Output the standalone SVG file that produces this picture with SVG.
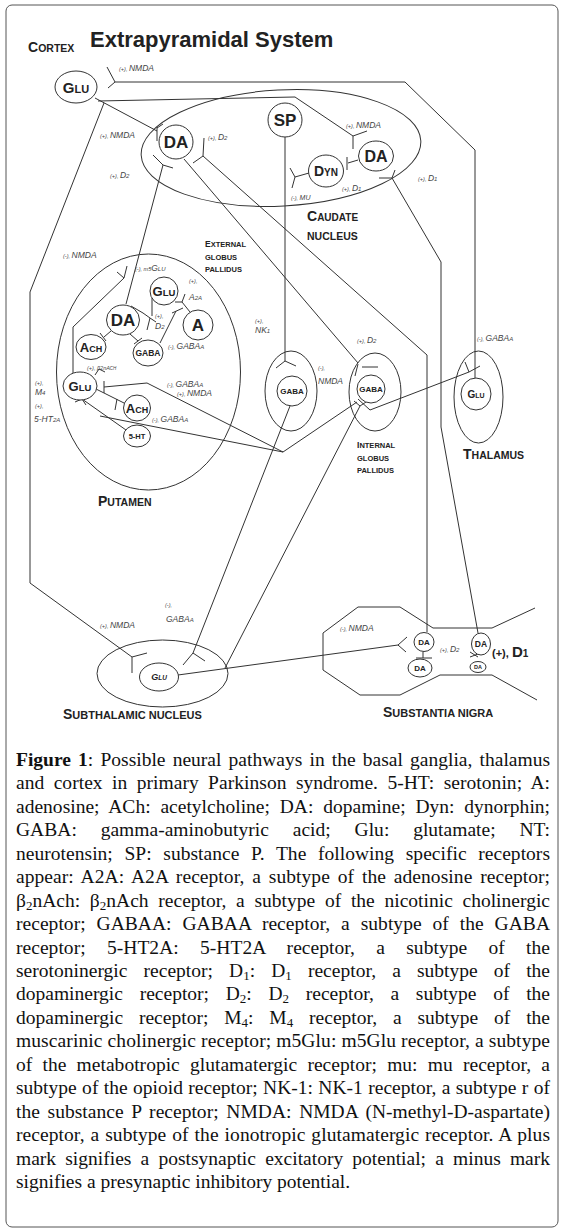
<svg xmlns="http://www.w3.org/2000/svg" width="566" height="1232" viewBox="0 0 566 1232">
<style>
.ln{fill:none;stroke:#333;stroke-width:1}
.rg{fill:none;stroke:#333;stroke-width:1}
.nd{fill:#fff;stroke:#333;stroke-width:1}
text{font-family:'Liberation Sans',Arial,sans-serif}
.n{font-weight:bold;fill:#222;text-anchor:middle}
.r{font-style:italic;font-size:8.5px;fill:#444}
.s{font-size:5.5px}
.sb{font-size:6px}
.g{font-weight:bold;fill:#222}
.c{font-family:'Liberation Serif','Times New Roman',serif;font-size:19.5px;fill:#111}
</style>
<rect x="0" y="0" width="566" height="1232" fill="#fff"/>
<rect x="6" y="5" width="552" height="1222" rx="6" fill="none" stroke="#555" stroke-width="1"/>
<text x="90" y="47" font-size="22" font-weight="bold" fill="#222">Extrapyramidal System</text>

<g id="regions">
<ellipse id="caudate" class="rg" cx="281" cy="148" rx="140" ry="58" transform="rotate(-3 281 148)"/>
<ellipse id="putamen" class="rg" cx="148.5" cy="372" rx="92" ry="118"/>
<ellipse id="extGP" class="rg" cx="291" cy="391" rx="26" ry="40"/>
<ellipse id="intGP" class="rg" cx="375" cy="392" rx="26" ry="39"/>
<ellipse id="thalamus" class="rg" cx="478.5" cy="397" rx="24.5" ry="46"/>
<ellipse id="stn" class="rg" cx="162.5" cy="673.5" rx="65.5" ry="33.5"/>
<path id="sn" class="rg" d="M535,608 L492,628 L433,628 L400,607 L358,607 L323,633 V670 L360,695 L400,695 L440,675 L492,675 L537,700"/>
</g>

<g id="connectors">
<path class="ln" d="M115,82 H405 L475,150 V379 M107,67 L115,82 L108,88"/>
<path class="ln" d="M98,101 L295,97 L353,136 M353,136 V149 M353,136 L367,131"/>
<path class="ln" d="M95,98 L157,131 M157,127 V141 M157,128 L163,124"/>
<path class="ln" d="M104,103 L30,292 V583 L132,657 M132,657 V673 M132,657 L147,653"/>
<path class="ln" d="M203,156 L427,355 V632 M204,138 L203,156 L193,163"/>
<path class="ln" d="M184,159 L358,363 M362,367 H378 M358,364 L355,376"/>
<path class="ln" d="M163,165 L126,304 M153,155 L163,165 L173,168"/>
<path class="ln" d="M285,137 V361 M276,368 L285,361 L296,366"/>
<path class="ln" d="M392,178 L441,262 V427 L478,633 M379,178 L392,178 L395,170"/>
<path class="ln" d="M358,160 L348,163 M347,157 V170"/>
<path class="ln" d="M309,173 L295,177 M290,168 L295,177 L292,188"/>
<path class="ln" d="M290,406 L193,653 M183,665 L193,653 L205,661"/>
<path class="ln" d="M360,406 L225,668 M354,401 L360,406 L366,402"/>
<path class="ln" d="M358,399 L370,410 L469,372 M465,362 L469,372 L480,366"/>
<path class="ln" d="M178,675 L398,645 M407,637 L398,645 L406,652"/>
<path class="ln" d="M283,452 L147,383 L104,387 M104,381 V393"/>
<path class="ln" d="M283,452 L100,416"/>
<path class="ln" d="M283,452 L357,402"/>
<path class="ln" d="M73,374 V327 L124,278 M127,266 L124,278 L117,272"/>
<path class="ln" d="M131,306 L143,313 L150,318 M147,330 L150,318 L156,322"/>
<path class="ln" d="M152,298 V316"/>
<path class="ln" d="M111,331 L104,337 M100,333 L106,341"/>
<path class="ln" d="M130,334 L138,341 M134,344 L142,338"/>
<path class="ln" d="M160,343 L176,311 M172,313 L183,308"/>
<path class="ln" d="M190,312 L182,302 M175,302 L182,302 L185,294"/>
<path class="ln" d="M96,389 L124,403 M117,399 L115,410"/>
<path class="ln" d="M82,399 L126,430 M75,402 L82,399 L86,405"/>
<path class="ln" d="M95,375 L99,369 L105,372"/>
<path class="ln" d="M423,652 V658 M416,658 H432"/>
<path class="ln" d="M470,652 L478,657 M470,657 L478,654"/>
</g>

<g id="n-cortex-glu"><ellipse class="nd" cx="76" cy="87" rx="21" ry="16"/><text class="n" x="76" y="93"><tspan font-size="15">G</tspan><tspan font-size="11">LU</tspan></text></g>
<g id="n-caud-da"><circle class="nd" cx="176" cy="142" r="17"/><text class="n" x="176" y="148" font-size="17">DA</text></g>
<g id="n-sp"><circle class="nd" cx="285" cy="120" r="17"/><text class="n" x="285" y="126" font-size="17">SP</text></g>
<g id="n-caud-da2"><ellipse class="nd" cx="376" cy="156" rx="17.5" ry="15"/><text class="n" x="376" y="162" font-size="16">DA</text></g>
<g id="n-dyn"><ellipse class="nd" cx="326" cy="171" rx="17.5" ry="16"/><text class="n" x="326" y="176"><tspan font-size="14">D</tspan><tspan font-size="10">YN</tspan></text></g>

<g id="n-put-glu-top"><circle class="nd" cx="164" cy="291" r="14"/><text class="n" x="164" y="296"><tspan font-size="13">G</tspan><tspan font-size="9.5">LU</tspan></text></g>
<g id="n-put-da"><ellipse class="nd" cx="123" cy="320" rx="16.5" ry="15"/><text class="n" x="123" y="326" font-size="17">DA</text></g>
<g id="n-put-a"><circle class="nd" cx="198" cy="325" r="15"/><text class="n" x="198" y="331" font-size="17">A</text></g>
<g id="n-put-ach"><ellipse class="nd" cx="91" cy="347" rx="15" ry="12.5"/><text class="n" x="91" y="352"><tspan font-size="13">A</tspan><tspan font-size="9">CH</tspan></text></g>
<g id="n-put-gaba"><ellipse class="nd" cx="148" cy="353" rx="15" ry="13"/><text class="n" x="148" y="356" font-size="8.5">GABA</text></g>
<g id="n-put-glu"><ellipse class="nd" cx="80" cy="386" rx="17" ry="14"/><text class="n" x="80" y="391"><tspan font-size="13">G</tspan><tspan font-size="9.5">LU</tspan></text></g>
<g id="n-put-ach2"><ellipse class="nd" cx="137" cy="408" rx="13.5" ry="13"/><text class="n" x="137" y="413"><tspan font-size="13">A</tspan><tspan font-size="9">CH</tspan></text></g>
<g id="n-put-5ht"><ellipse class="nd" cx="137" cy="436" rx="13.5" ry="11"/><text class="n" x="137" y="439" font-size="7.5">5-HT</text></g>

<g id="n-ext-gaba"><circle class="nd" cx="292" cy="391" r="15"/><text class="n" x="292" y="394" font-size="8">GABA</text></g>
<g id="n-int-gaba"><circle class="nd" cx="371" cy="389" r="14"/><text class="n" x="371" y="392" font-size="8">GABA</text></g>
<g id="n-thal-glu"><ellipse class="nd" cx="476" cy="394" rx="15" ry="16"/><text class="n" x="476" y="398"><tspan font-size="10">G</tspan><tspan font-size="7">LU</tspan></text></g>
<g id="n-stn-glu"><ellipse class="nd" cx="159" cy="677" rx="19.5" ry="14"/><text class="n" x="159" y="680" font-style="italic"><tspan font-size="9">G</tspan><tspan font-size="6.5">LU</tspan></text></g>
<g id="n-sn-da1"><ellipse class="nd" cx="424" cy="642" rx="10" ry="9.5"/><text class="n" x="424" y="645" font-size="8">DA</text></g>
<g id="n-sn-da2"><ellipse class="nd" cx="420" cy="668" rx="12" ry="9"/><text class="n" x="420" y="671" font-size="8">DA</text></g>
<g id="n-sn-da3"><ellipse class="nd" cx="481" cy="644" rx="9.5" ry="11"/><text class="n" x="481" y="647" font-size="8.5">DA</text></g>
<g id="n-sn-da4"><ellipse class="nd" cx="478" cy="667" rx="8" ry="5.5"/><text class="n" x="478" y="669" font-size="5.5">DA</text></g>

<g id="region-labels">
<text class="g" x="28" y="52"><tspan font-size="14">C</tspan><tspan font-size="10.5">ORTEX</tspan></text>
<text class="g" x="307" y="221"><tspan font-size="14">C</tspan><tspan font-size="10">AUDATE</tspan></text>
<text class="g" x="307" y="240" font-size="10.5">NUCLEUS</text>
<text class="g" x="205" y="247"><tspan font-size="8.5">E</tspan><tspan font-size="7.5">XTERNAL</tspan></text>
<text class="g" x="205" y="260" font-size="7.5">GLOBUS</text>
<text class="g" x="205" y="272" font-size="7.5">PALLIDUS</text>
<text class="g" x="357" y="448"><tspan font-size="8.5">I</tspan><tspan font-size="7.5">NTERNAL</tspan></text>
<text class="g" x="357" y="461" font-size="7.5">GLOBUS</text>
<text class="g" x="357" y="473" font-size="7.5">PALLIDUS</text>
<text class="g" x="98" y="506"><tspan font-size="14">P</tspan><tspan font-size="10.5">UTAMEN</tspan></text>
<text class="g" x="463" y="459"><tspan font-size="14">T</tspan><tspan font-size="10.5">HALAMUS</tspan></text>
<text class="g" x="63" y="719"><tspan font-size="14">S</tspan><tspan font-size="11">UBTHALAMIC NUCLEUS</tspan></text>
<text class="g" x="383" y="717"><tspan font-size="14">S</tspan><tspan font-size="11">UBSTANTIA NIGRA</tspan></text>
</g>

<g id="receptor-labels">
<text class="r" x="119" y="71"><tspan class="s">(+), </tspan>NMDA</text>
<text class="r" x="100" y="138"><tspan class="s">(+), </tspan>NMDA</text>
<text class="r" x="208" y="140"><tspan class="s">(+), </tspan>D<tspan class="sb">2</tspan></text>
<text class="r" x="110" y="178"><tspan class="s">(+), </tspan>D<tspan class="sb">2</tspan></text>
<text class="r" x="346" y="128"><tspan class="s">(+), </tspan>NMDA</text>
<text class="r" x="291" y="200"><tspan class="s">(-), </tspan><tspan font-size="7">MU</tspan></text>
<text class="r" x="342" y="191"><tspan class="s">(+), </tspan>D<tspan class="sb">1</tspan></text>
<text class="r" x="418" y="181"><tspan class="s">(+), </tspan>D<tspan class="sb">1</tspan></text>
<text class="r" x="63" y="258"><tspan class="s">(-), </tspan>NMDA</text>
<text class="r" x="135" y="271"><tspan class="s">(-), m5</tspan>G<tspan class="sb">LU</tspan></text>
<text class="r s" x="189" y="283">(+),</text>
<text class="r" x="189" y="300">A<tspan class="sb">2A</tspan></text>
<text class="r s" x="155" y="318">(+),</text>
<text class="r" x="155" y="329">D<tspan class="sb">2</tspan></text>
<text class="r" x="168" y="349"><tspan class="s">(-), </tspan>GABA<tspan class="sb">A</tspan></text>
<text class="r" x="87" y="370"><tspan class="s">(+), β2nA</tspan><tspan font-size="4.5">CH</tspan></text>
<text class="r" x="167" y="387"><tspan class="s">(-), </tspan>GABA<tspan class="sb">A</tspan></text>
<text class="r" x="177" y="396"><tspan class="s">(+), </tspan>NMDA</text>
<text class="r" x="152" y="422"><tspan class="s">(-), </tspan>GABA<tspan class="sb">A</tspan></text>
<text class="r s" x="35" y="385">(+),</text>
<text class="r" x="35" y="395">M<tspan class="sb">4</tspan></text>
<text class="r s" x="35" y="408">(+),</text>
<text class="r" x="34" y="422">5-HT<tspan class="sb">2A</tspan></text>
<text class="r s" x="255" y="323">(+),</text>
<text class="r" x="255" y="333">NK<tspan class="sb">1</tspan></text>
<text class="r s" x="318" y="370">(-),</text>
<text class="r" x="318" y="384">NMDA</text>
<text class="r" x="357" y="343"><tspan class="s">(+), </tspan>D<tspan class="sb">2</tspan></text>
<text class="r" x="477" y="341"><tspan class="s">(-), </tspan>GABA<tspan class="sb">A</tspan></text>
<text class="r" x="100" y="628"><tspan class="s">(+), </tspan>NMDA</text>
<text class="r s" x="165" y="607">(-),</text>
<text class="r" x="166" y="622">GABA<tspan class="sb">A</tspan></text>
<text class="r" x="340" y="631"><tspan class="s">(-), </tspan>NMDA</text>
<text class="r" x="440" y="652"><tspan class="s">(+), </tspan>D<tspan class="sb">2</tspan></text>
<text x="492" y="657" font-weight="bold" fill="#222"><tspan font-size="11">(+), </tspan><tspan font-size="15">D</tspan><tspan font-size="10">1</tspan></text>
</g>

<g id="caption">
<text class="c" x="16" y="766" word-spacing="2.3" textLength="534" lengthAdjust="spacing"><tspan font-weight="bold">Figure 1</tspan>: Possible neural pathways in the basal ganglia, thalamus</text>
<text class="c" x="16" y="789.4" word-spacing="4.5" textLength="534" lengthAdjust="spacing">and cortex in primary Parkinson syndrome. 5-HT: serotonin; A:</text>
<text class="c" x="16" y="812.9" word-spacing="4.9" textLength="534" lengthAdjust="spacing">adenosine; ACh: acetylcholine; DA: dopamine; Dyn: dynorphin;</text>
<text class="c" x="16" y="836.3" word-spacing="18.9" textLength="534" lengthAdjust="spacing">GABA: gamma-aminobutyric acid; Glu: glutamate; NT:</text>
<text class="c" x="16" y="859.8" word-spacing="6.7" textLength="534" lengthAdjust="spacing">neurotensin; SP: substance P. The following specific receptors</text>
<text class="c" x="16" y="883.2" word-spacing="2.9" textLength="534" lengthAdjust="spacing">appear: A2A: A2A receptor, a subtype of the adenosine receptor;</text>
<text class="c" x="16" y="906.6" word-spacing="4.8" textLength="534" lengthAdjust="spacing">β<tspan font-size="13" dy="3">2</tspan><tspan dy="-3">nAch: β</tspan><tspan font-size="13" dy="3">2</tspan><tspan dy="-3">nAch receptor, a subtype of the nicotinic cholinergic</tspan></text>
<text class="c" x="16" y="930.1" word-spacing="6" textLength="534" lengthAdjust="spacing">receptor; GABAA: GABAA receptor, a subtype of the GABA</text>
<text class="c" x="16" y="953.5" word-spacing="16.4" textLength="534" lengthAdjust="spacing">receptor; 5-HT2A: 5-HT2A receptor, a subtype of the</text>
<text class="c" x="16" y="977" word-spacing="11.2" textLength="534" lengthAdjust="spacing">serotoninergic receptor; D<tspan font-size="13" dy="3">1</tspan><tspan dy="-3">: D</tspan><tspan font-size="13" dy="3">1</tspan><tspan dy="-3"> receptor, a subtype of the</tspan></text>
<text class="c" x="16" y="1000.4" word-spacing="11.8" textLength="534" lengthAdjust="spacing">dopaminergic receptor; D<tspan font-size="13" dy="3">2</tspan><tspan dy="-3">: D</tspan><tspan font-size="13" dy="3">2</tspan><tspan dy="-3"> receptor, a subtype of the</tspan></text>
<text class="c" x="16" y="1023.8" word-spacing="10.9" textLength="534" lengthAdjust="spacing">dopaminergic receptor; M<tspan font-size="13" dy="3">4</tspan><tspan dy="-3">: M</tspan><tspan font-size="13" dy="3">4</tspan><tspan dy="-3"> receptor, a subtype of the</tspan></text>
<text class="c" x="16" y="1047.3" textLength="534" lengthAdjust="spacing">muscarinic cholinergic receptor; m5Glu: m5Glu receptor, a subtype</text>
<text class="c" x="16" y="1070.7" word-spacing="5.3" textLength="534" lengthAdjust="spacing">of the metabotropic glutamatergic receptor; mu: mu receptor, a</text>
<text class="c" x="16" y="1094.2" word-spacing="0.5" textLength="534" lengthAdjust="spacing">subtype of the opioid receptor; NK-1: NK-1 receptor, a subtype r of</text>
<text class="c" x="16" y="1117.6" word-spacing="2.8" textLength="534" lengthAdjust="spacing">the substance P receptor; NMDA: NMDA (N-methyl-D-aspartate)</text>
<text class="c" x="16" y="1141" word-spacing="1" textLength="534" lengthAdjust="spacing">receptor, a subtype of the ionotropic glutamatergic receptor. A plus</text>
<text class="c" x="16" y="1164.5" word-spacing="4.3" textLength="534" lengthAdjust="spacing">mark signifies a postsynaptic excitatory potential; a minus mark</text>
<text class="c" x="16" y="1187.9">signifies a presynaptic inhibitory potential.</text>
</g>
</svg>
